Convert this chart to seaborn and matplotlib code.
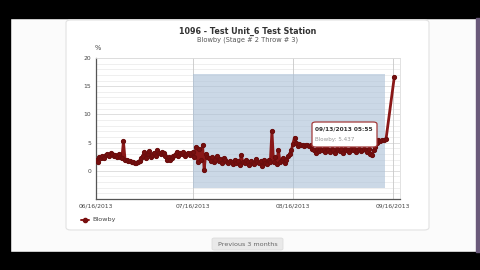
import matplotlib
matplotlib.use("Agg")
import matplotlib.pyplot as plt
import matplotlib.dates as mdates
from matplotlib.patches import Rectangle, FancyBboxPatch
from matplotlib.lines import Line2D
import seaborn as sns
import pandas as pd
import numpy as np

# ---------------- data ----------------
title = "1096 - Test Unit_6 Test Station"
subtitle = "Blowby (Stage # 2 Throw # 3)"
series_name = "Blowby"
start_time = "2013-06-16 00:00"
step = "12h"
blowby = [
    2.0, 1.6, 2.4, 2.2, 2.6, 2.3, 2.8, 3.0, 2.7, 3.1,
    2.9, 2.6, 2.8, 2.4, 2.9, 2.5, 2.2, 5.2, 2.0, 1.9,
    1.8, 1.7, 1.5, 1.6, 1.3, 1.4, 1.5, 1.8, 2.2, 2.7,
    3.4, 2.2, 2.9, 3.5, 2.4, 2.8, 3.2, 2.6, 3.6, 3.2,
    3.0, 3.3, 3.1, 2.6, 1.9, 2.4, 2.0, 2.3, 2.6, 2.8,
    3.4, 2.6, 3.1, 2.9, 3.3, 2.7, 3.0, 3.2, 2.8, 3.1,
    3.3, 2.4, 4.2, 1.6, 3.8, 2.0, 4.6, 0.2, 3.0, 2.4,
    2.2, 1.8, 2.4, 1.5, 2.0, 2.6, 1.7, 2.1, 1.4, 2.3,
    1.9, 1.6, 1.3, 1.8, 1.5, 1.2, 2.0, 1.4, 1.7, 1.1,
    2.8, 1.5, 1.3, 1.9, 1.6, 1.0, 1.8, 1.4, 1.2, 2.1,
    1.5, 1.3, 1.7, 0.8, 1.9, 1.4, 1.2, 2.0, 1.6, 7.1,
    1.5, 2.4, 1.2, 3.7, 1.6, 1.9, 2.3, 1.4, 2.0, 2.6,
    3.0, 3.6, 4.8, 5.9, 5.0, 4.4, 4.7, 4.5, 4.6, 4.4,
    4.5, 4.6, 4.4, 4.5, 3.9, 3.7, 3.2, 3.8, 3.5, 3.9,
    3.6, 3.8, 3.3, 3.9, 3.7, 3.4, 3.8, 3.6, 3.1, 3.9,
    3.7, 3.5, 3.8, 3.2, 3.9, 3.6, 3.7, 3.3, 3.8, 3.6,
    3.9, 3.4, 3.7, 3.8, 3.5, 3.6, 3.9, 3.7, 3.3, 3.8,
    3.0, 2.8, 3.6, 4.2, 5.0, 5.5, 5.2, 5.4,
]
extra_times = ["2013-09-13 05:55", "2013-09-13 20:00", "2013-09-16 10:00"]
extra_values = [5.437, 5.6, 16.7]
xtick_dates = ["2013-06-16", "2013-07-16", "2013-08-16", "2013-09-16"]
xtick_labels = ["06/16/2013", "07/16/2013", "08/16/2013", "09/16/2013"]
ytick_values = [0, 5, 10, 15, 20]
ytick_labels = ["0", "5", "10", "15", "20"]
band_start, band_end = "2013-07-16 00:00", "2013-09-13 10:00"
band_low, band_high = -3.1, 17.1
tooltip_time = "09/13/2013 05:55"
tooltip_value = "Blowby: 5.437"
button_text = "Previous 3 months"

times = list(pd.date_range(start_time, periods=len(blowby), freq=step)) + list(pd.to_datetime(extra_times))
values = blowby + extra_values
df = pd.DataFrame({"time": times, "value": values})

# ---------------- figure ----------------
sns.set_style("white")
plt.rcParams["font.family"] = ["DejaVu Sans"]
W, H = 480, 270
fig = plt.figure(figsize=(4.8, 2.7), dpi=100, facecolor="#fbfbfb")

def px(x0, y0, w, h):
    return (x0 / W, 1 - (y0 + h) / H, w / W, h / H)

# black frame bars
for (x0, y0, w, h) in [(0, 0, 480, 18), (0, 252, 480, 18), (0, 0, 10, 270)]:
    r = px(x0, y0, w, h)
    fig.patches.append(Rectangle(r[:2], r[2], r[3], transform=fig.transFigure,
                                 color="black", zorder=-2))
r = px(476, 18, 4, 234)
fig.patches.append(Rectangle(r[:2], r[2], r[3], transform=fig.transFigure,
                             color="#6a5a7a", zorder=-2))
# card
cx, cy, cw, ch = px(66, 20, 363, 210)
fig.patches.append(FancyBboxPatch((cx, cy), cw, ch, boxstyle="round,pad=0,rounding_size=0.01",
                                  transform=fig.transFigure, facecolor="white",
                                  edgecolor="#e2e2e2", linewidth=0.8, zorder=-1))
# button
bx, by, bw, bh = px(212, 238, 71, 12)
fig.patches.append(FancyBboxPatch((bx, by), bw, bh, boxstyle="round,pad=0,rounding_size=0.005",
                                  transform=fig.transFigure, facecolor="#e9e9e9",
                                  edgecolor="#dddddd", linewidth=0.6, zorder=-1))
fig.text(bx + bw / 2, by + bh / 2, button_text, ha="center", va="center",
         fontsize=4.6, color="#666666")

# titles
fig.text(248 / W, 1 - 31 / H, title, ha="center", va="center", fontsize=5.8,
         fontweight="bold", color="#333333")
fig.text(248 / W, 1 - 39.5 / H, subtitle, ha="center", va="center", fontsize=4.8,
         color="#555555")
fig.text(97.5 / W, 1 - 48 / H, "%", ha="center", va="center", fontsize=4.8, color="#444444")

# axes
ax = fig.add_axes(px(96, 58, 304, 141))
ax.set_zorder(2)
ax.set_facecolor("white")
ax.set_ylim(-5, 20)
x_left = pd.Timestamp("2013-06-16")
x_right = pd.Timestamp("2013-09-18 04:00")
ax.set_xlim(x_left, x_right)

# grid
for v in np.arange(-5, 21, 1):
    ax.axhline(v, color="#d2d2d2" if v % 5 == 0 else "#e9e9e9", lw=0.5, zorder=0)
for d in pd.to_datetime(xtick_dates):
    ax.axvline(d, color="#c8c8c8", lw=0.6, zorder=0)

# selection band
b0 = mdates.date2num(pd.Timestamp(band_start))
b1 = mdates.date2num(pd.Timestamp(band_end))
ax.add_patch(Rectangle((b0, band_low), b1 - b0, band_high - band_low,
                       facecolor="#a9bfd6", alpha=0.6, edgecolor="none", zorder=1))

sns.lineplot(data=df, x="time", y="value", ax=ax, color="#8a1818", lw=2.0,
             marker="o", markersize=3.0, markeredgecolor="#6a0d0d",
             markerfacecolor="#780f0f", zorder=3, legend=False)

ax.set_xlim(x_left, x_right)
ax.set_xticks(pd.to_datetime(xtick_dates))
ax.set_xticklabels(xtick_labels)
ax.set_yticks(ytick_values)
ax.set_yticklabels(ytick_labels)
ax.tick_params(axis="both", labelsize=4.3, colors="#444444", length=2, width=0.6, pad=1.5)
ax.set_xlabel("")
ax.set_ylabel("")
for s in ["left", "bottom"]:
    ax.spines[s].set_color("#555555")
    ax.spines[s].set_linewidth(0.9)
for s in ["top", "right"]:
    ax.spines[s].set_color("#dddddd")
    ax.spines[s].set_linewidth(0.6)

# tooltip
tx, ty, tw, th = px(312, 122, 65, 25)
fig.patches.append(FancyBboxPatch((tx, ty), tw, th, boxstyle="round,pad=0,rounding_size=0.008",
                                  transform=fig.transFigure, facecolor="white",
                                  edgecolor="#a33a3a", linewidth=0.9, zorder=5))
fig.text(tx + 3 / W, 1 - 129 / H, tooltip_time, ha="left", va="center", fontsize=4.2,
         fontweight="bold", color="#333333", zorder=6)
fig.text(tx + 3 / W, 1 - 140 / H, tooltip_value, ha="left", va="center", fontsize=4.1,
         color="#999999", zorder=6)

# legend
fig.lines.append(Line2D([81 / W, 89 / W], [1 - 220 / H, 1 - 220 / H], transform=fig.transFigure,
                        color="#8a1818", lw=1.4))
fig.lines.append(Line2D([85 / W], [1 - 220 / H], transform=fig.transFigure,
                        color="#780f0f", marker="o", markersize=3, linestyle="none"))
fig.text(92 / W, 1 - 220 / H, series_name, ha="left", va="center", fontsize=4.6, color="#444444")

fig.savefig("out.png", dpi=100, facecolor=fig.get_facecolor())
